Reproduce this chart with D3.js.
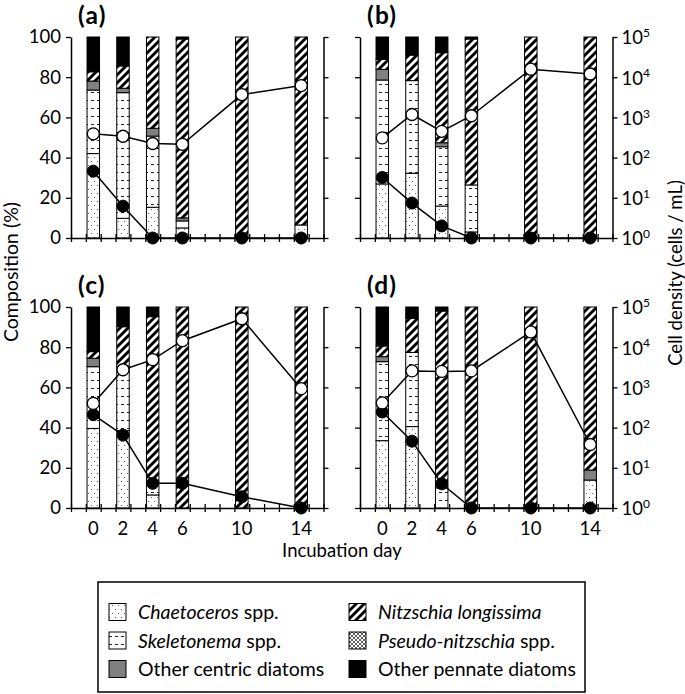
<!DOCTYPE html>
<html><head><meta charset="utf-8">
<script src="https://cdn.jsdelivr.net/npm/d3@7"></script>
<style>body{margin:0;background:#fff} text{font-family:Lato,"Open Sans",sans-serif;fill:#000}</style>
</head><body><svg id="c" width="685" height="694"></svg>
<script>
// ---------- data ----------
const days = [0, 2, 4, 6, 10, 14];
const panelIds = ["a", "b", "c", "d"];
const dayLabels = ["0", "2", "4", "6", "10", "14"];
const compTicks = [0, 20, 40, 60, 80, 100];
const densityTicks = [1, 10, 100, 1000, 10000, 100000];
// composition (%) per panel, day order as `days`
const chaetoceros     = {a:[42,9.8,15.3,5,0,6.5], b:[26.9,32.2,15.9,3,0,0], c:[39.6,38.5,6.5,0,0,0], d:[33.5,40.5,0,0,0,13.9]};
const skeletonema     = {a:[31.6,62.5,35.4,3.5,0,0], b:[51.7,46.1,29.5,23.4,0,0], c:[30.7,31.8,6,0,0,0], d:[39.3,36.9,10,0,0,0]};
const otherCentric    = {a:[4.5,2.2,3.9,1.5,0,0], b:[5.3,0,2,0,0,0], c:[4.2,0,0,0,0,0], d:[2.5,0,0,0,0,5]};
const pseudoNitzschia = {a:[0,0,0,0,0,0], b:[0,0,0,0,0,0], c:[0,0,0,0,0,0], d:[0,0,0,0,0,0]};
const nitzschia       = {a:[4.6,11.1,45.4,89,100,93.5], b:[5,12.7,44.8,72.6,100,100], c:[3.3,19.9,82.7,100,100,100], d:[5.3,17,88,100,100,81.1]};
const otherPennate    = {a:[17.3,14.4,0,1,0,0], b:[11.1,9,7.8,1,0,0], c:[22.2,9.8,4.8,0,0,0], d:[19.4,5.6,2,0,0,0]};
// cell density (cells/mL)
const densityOpen   = {a:[390,340,224,214,3700,6200], b:[310,1180,450,1100,15800,12000], c:[400,2750,4900,14500,51000,930], d:[410,2570,2500,2570,24000,38]};
const densityFilled = {a:[46,6.2,1,1,1,1], b:[32,7.4,2,1,1,1], c:[210,65,4.1,4.1,1.9,1], d:[245,46,4,1,1,1]};
const speciesKeys = ["chaetoceros","skeletonema","otherCentric","pseudoNitzschia","nitzschia","otherPennate"];
const speciesData = {chaetoceros, skeletonema, otherCentric, pseudoNitzschia, nitzschia, otherPennate};
const legendLabels = [
  [["Chaetoceros", true], [" spp.", false]],
  [["Skeletonema", true], [" spp.", false]],
  [["Other centric diatoms", false]],
  [["Nitzschia longissima", true]],
  [["Pseudo-nitzschia", true], [" spp.", false]],
  [["Other pennate diatoms", false]]
];
const legendKeys = ["chaetoceros","skeletonema","otherCentric","nitzschia","pseudoNitzschia","otherPennate"];

// ---------- drawing ----------
const svg = d3.select("#c");
const defs = svg.append("defs");
let p = defs.append("pattern").attr("id","p-chaetoceros").attr("patternUnits","userSpaceOnUse").attr("width",6).attr("height",8);
p.append("rect").attr("width",6).attr("height",8).attr("fill","#fff");
p.append("rect").attr("x",1).attr("y",1).attr("width",1).attr("height",1).attr("fill","#666");
p.append("rect").attr("x",4).attr("y",5).attr("width",1).attr("height",1).attr("fill","#666");
p = defs.append("pattern").attr("id","p-skeletonema").attr("patternUnits","userSpaceOnUse").attr("width",6).attr("height",8);
p.append("rect").attr("width",6).attr("height",8).attr("fill","#fff");
p.append("rect").attr("x",1).attr("y",4).attr("width",3).attr("height",1).attr("fill","#222");
p = defs.append("pattern").attr("id","p-nitzschia").attr("patternUnits","userSpaceOnUse").attr("width",8).attr("height",8);
p.append("rect").attr("width",8).attr("height",8).attr("fill","#fff");
p.append("path").attr("d","M-2,2L2,-2M0,8L8,0M6,10L10,6").attr("stroke","#000").attr("stroke-width",2.9);
p = defs.append("pattern").attr("id","p-pseudo").attr("patternUnits","userSpaceOnUse").attr("width",4).attr("height",4);
p.append("rect").attr("width",4).attr("height",4).attr("fill","#fff");
p.append("path").attr("d","M0,0L4,4M4,0L0,4").attr("stroke","#333").attr("stroke-width",0.8);

const fills = {chaetoceros:"url(#p-chaetoceros)", skeletonema:"url(#p-skeletonema)", otherCentric:"#808080",
  pseudoNitzschia:"url(#p-pseudo)", nitzschia:"url(#p-nitzschia)", otherPennate:"#000"};

const PW = 252.5, PH = 201;
const origins = {a:[71,37], b:[360,37], c:[71,307], d:[360,307]};

panelIds.forEach((id) => {
  const [x0, y0] = origins[id];
  const x = d3.scaleLinear().domain([-1.5, 15.5]).range([x0, x0 + PW]);
  const y = d3.scaleLinear().domain([0, 100]).range([y0 + PH, y0]);
  const yr = d3.scaleLog().domain([1, 1e5]).range([y0 + PH, y0]);
  const g = svg.append("g");
  const isLeft = (id === "a" || id === "c");
  const isBottom = (id === "c" || id === "d");

  const rows = days.map((d, i) => {
    const r = {day: d};
    speciesKeys.forEach(k => r[k] = speciesData[k][id][i]);
    return r;
  });
  const stack = d3.stack().keys(speciesKeys)(rows);
  const bw = 12.5;
  stack.forEach(layer => {
    g.append("g").selectAll("rect").data(layer.filter(s => s[1] - s[0] > 0)).join("rect")
      .attr("x", s => x(s.data.day) - bw/2)
      .attr("width", bw)
      .attr("y", s => y(s[1]))
      .attr("height", s => y(s[0]) - y(s[1]))
      .attr("fill", fills[layer.key])
      .attr("stroke", "#000").attr("stroke-width", 1);
  });

  const ax = g.append("g").attr("transform", `translate(${x0},0)`)
    .call(d3.axisLeft(y).tickValues(compTicks).tickSize(5).tickSizeOuter(0)
      .tickFormat(isLeft ? d3.format("d") : () => ""));
  ax.selectAll("text").attr("font-size", 18.5).attr("font-family", "Lato").attr("dx", -2).attr("fill","#000");
  const axR = g.append("g").attr("transform", `translate(${x0 + PW},0)`)
    .call(d3.axisRight(yr).tickValues(densityTicks).tickSize(5).tickSizeOuter(0).tickFormat(() => ""));
  if (!isLeft) {
    densityTicks.forEach(v => {
      const t = g.append("text").attr("x", x0 + PW + 9).attr("y", yr(v)).attr("dy", "0.4em").attr("font-size", 18.5);
      t.append("tspan").text("10");
      t.append("tspan").attr("dy", "-0.6em").attr("font-size", 12).text(String(Math.round(Math.log10(v))));
    });
  }
  const axB = g.append("g").attr("transform", `translate(0,${y0 + PH})`)
    .call(d3.axisBottom(x).tickValues(d3.range(-1.5, 15.6, 1)).tickSize(4).tickSizeOuter(0).tickFormat(() => ""));
  axB.selectAll(".tick line").attr("y1", -4);
  [ax, axR, axB].forEach(a => { a.select(".domain").attr("stroke-width", 1.5); a.selectAll(".tick line").attr("stroke-width", 1.3); });
  if (isBottom) {
    g.selectAll(".dl").data(days).join("text")
      .attr("x", d => x(d)).attr("y", y0 + PH + 27).attr("text-anchor", "middle").attr("font-size", 18.5)
      .text((d, i) => dayLabels[i]);
  }

  const line = d3.line().x((v, i) => x(days[i])).y(v => yr(v));
  g.append("path").attr("d", line(densityFilled[id])).attr("fill", "none").attr("stroke", "#000").attr("stroke-width", 1.5);
  g.append("path").attr("d", line(densityOpen[id])).attr("fill", "none").attr("stroke", "#000").attr("stroke-width", 1.5);
  g.append("g").selectAll("circle").data(densityFilled[id]).join("circle")
    .attr("cx", (v, i) => x(days[i])).attr("cy", v => yr(v)).attr("r", 6).attr("fill", "#000").attr("stroke","#000");
  g.append("g").selectAll("circle").data(densityOpen[id]).join("circle")
    .attr("cx", (v, i) => x(days[i])).attr("cy", v => yr(v)).attr("r", 6).attr("fill", "#fff").attr("stroke","#000").attr("stroke-width",1.3);

  svg.append("text").attr("x", x0 + 7).attr("y", y0 - 13)
    .attr("font-family", "'Liberation Sans', Arial, sans-serif").attr("font-weight", "bold").attr("font-size", 24.5)
    .attr("letter-spacing", 1.2)
    .text(`(${id})`);
});

svg.append("text").attr("transform", "translate(18,272) rotate(-90)").attr("text-anchor", "middle").attr("font-size", 19.5).text("Composition (%)");
svg.append("text").attr("transform", "translate(682,273) rotate(-90)").attr("text-anchor", "middle").attr("font-size", 18.5).text("Cell density (cells / mL)");
svg.append("text").attr("x", 342).attr("y", 557).attr("text-anchor", "middle").attr("font-size", 18.5).text("Incubation day");

svg.append("rect").attr("x", 98).attr("y", 582).attr("width", 487).attr("height", 110).attr("fill", "none").attr("stroke", "#000").attr("stroke-width", 1.5);
legendKeys.forEach((k, i) => {
  const col = Math.floor(i / 3), row = i % 3;
  const sx = col ? 349 : 109, cy = 612 + row * 28.5;
  svg.append("rect").attr("x", sx).attr("y", cy - 8.5).attr("width", 17).attr("height", 17)
    .attr("fill", fills[k]).attr("stroke", "#000").attr("stroke-width", 1);
  const t = svg.append("text").attr("x", sx + 29).attr("y", cy).attr("dy", "0.36em").attr("font-size", 19.5);
  legendLabels[i].forEach(([s, it]) => t.append("tspan").attr("font-style", it ? "italic" : "normal").text(s));
});
</script></body></html>
